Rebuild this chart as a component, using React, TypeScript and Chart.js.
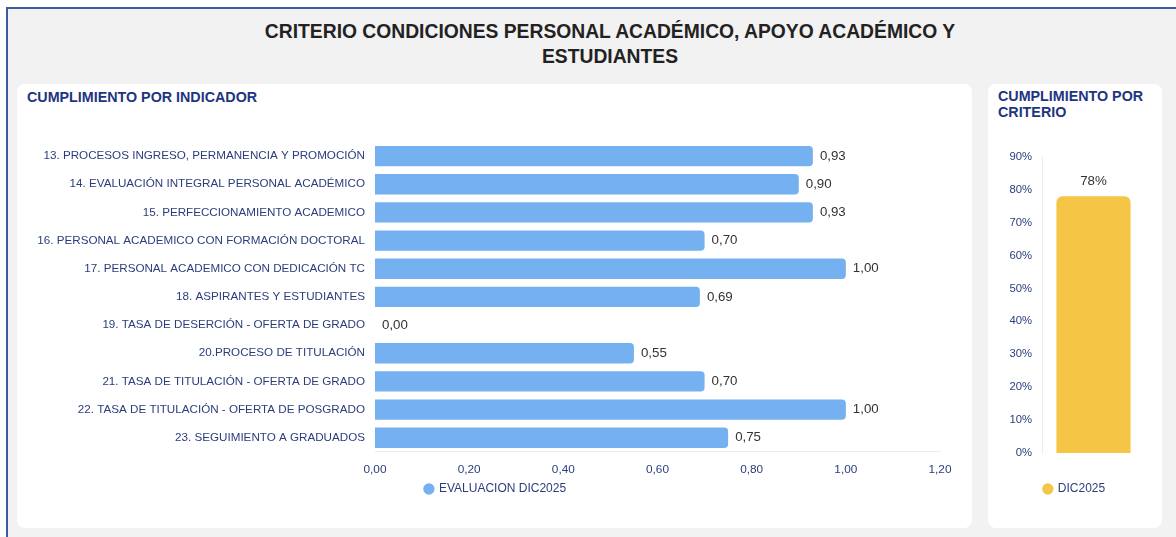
import React, { useEffect, useRef } from "react";
import { Chart, registerables } from "chart.js";

Chart.register(...registerables);

const indicatorLabels = [
  "13. PROCESOS INGRESO, PERMANENCIA Y PROMOCIÓN",
  "14. EVALUACIÓN INTEGRAL PERSONAL ACADÉMICO",
  "15. PERFECCIONAMIENTO ACADEMICO",
  "16. PERSONAL ACADEMICO CON FORMACIÓN DOCTORAL",
  "17. PERSONAL ACADEMICO CON DEDICACIÓN TC",
  "18. ASPIRANTES Y ESTUDIANTES",
  "19. TASA DE DESERCIÓN - OFERTA DE GRADO",
  "20.PROCESO DE TITULACIÓN",
  "21. TASA DE TITULACIÓN - OFERTA DE GRADO",
  "22. TASA DE TITULACIÓN - OFERTA DE POSGRADO",
  "23. SEGUIMIENTO A GRADUADOS",
];
const indicatorValues = [0.93, 0.9, 0.93, 0.7, 1.0, 0.69, 0.0, 0.55, 0.7, 1.0, 0.75];
const indicatorSeriesName = "EVALUACION DIC2025";

const criterioLabels = ["DIC2025"];
const criterioValues = [78];
const criterioSeriesName = "DIC2025";

const NAVY = "#2b3d7c";
const FONT = "'Liberation Sans', Arial, Helvetica, sans-serif";

const fmt = (v: number) => v.toFixed(2).replace(".", ",");

const valueLabelPlugin = {
  id: "valueLabels",
  afterDatasetsDraw(chart: any, _args: any, opts: any) {
    const ctx = chart.ctx;
    const meta = chart.getDatasetMeta(0);
    const data = chart.data.datasets[0].data as number[];
    ctx.save();
    ctx.fillStyle = "#333333";
    ctx.font = `13.3px ${FONT}`;
    meta.data.forEach((el: any, i: number) => {
      const v = data[i];
      if (opts.horizontal) {
        ctx.textAlign = "left";
        ctx.textBaseline = "middle";
        ctx.fillText(fmt(v), el.x + 7, el.y);
      } else {
        ctx.textAlign = "center";
        ctx.textBaseline = "bottom";
        ctx.fillText(Math.round(v) + "%", el.x, el.y - 8);
      }
    });
    ctx.restore();
  },
};

// shifts the legend box horizontally after layout
const legendShiftPlugin = {
  id: "legendShift",
  afterLayout(chart: any, _args: any, opts: any) {
    const lg = chart.legend;
    if (lg && opts && opts.dx) {
      lg.left += opts.dx;
      lg.right += opts.dx;
      if (lg.legendHitBoxes) lg.legendHitBoxes.forEach((b: any) => (b.left += opts.dx));
    }
  },
};

function IndicatorChart() {
  const ref = useRef<HTMLCanvasElement>(null);
  useEffect(() => {
    const chart = new Chart(ref.current!, {
      type: "bar",
      data: {
        labels: indicatorLabels,
        datasets: [
          {
            label: indicatorSeriesName,
            data: indicatorValues,
            backgroundColor: "#75b1f1",
            borderRadius: 4,
            borderSkipped: "start",
            barPercentage: 0.72,
            categoryPercentage: 1,
          },
        ],
      },
      options: {
        indexAxis: "y",
        animation: false,
        responsive: false,
        maintainAspectRatio: false,
        layout: { padding: { top: 11, right: 32, bottom: 4, left: 0 } },
        scales: {
          x: {
            min: 0,
            max: 1.2,
            grid: { display: false, drawTicks: false },
            border: { display: true, color: "#ececec" },
            ticks: {
              stepSize: 0.2,
              color: NAVY,
              padding: 11,
              font: { family: FONT, size: 11.8 },
              callback: (v: any) => fmt(Number(v)),
            },
            afterFit: (scale: any) => {
              scale.height = scale.height - 11;
            },
          },
          y: {
            grid: { display: false, drawTicks: false },
            border: { display: false },
            ticks: {
              color: NAVY,
              padding: 10,
              font: { family: FONT, size: 11.65 },
            },
            afterFit: (scale: any) => {
              scale.width = 358;
            },
          },
        },
        plugins: {
          legend: {
            position: "bottom",
            labels: {
              usePointStyle: true,
              pointStyle: "circle",
              boxWidth: 8,
              boxHeight: 8,
              color: NAVY,
              padding: 6,
              font: { family: FONT, size: 12 },
            },
          },
          tooltip: { enabled: false },
          valueLabels: { horizontal: true },
          legendShift: { dx: 17 },
        } as any,
      },
      plugins: [valueLabelPlugin, legendShiftPlugin],
    });
    return () => chart.destroy();
  }, []);
  return (
    <canvas
      ref={ref}
      width={955}
      height={384}
      style={{ position: "absolute", left: 0, top: 41, width: 955, height: 384 }}
    />
  );
}

function CriterioChart() {
  const ref = useRef<HTMLCanvasElement>(null);
  useEffect(() => {
    const chart = new Chart(ref.current!, {
      type: "bar",
      data: {
        labels: criterioLabels,
        datasets: [
          {
            label: criterioSeriesName,
            data: criterioValues,
            backgroundColor: "#f5c646",
            borderRadius: 6,
            borderSkipped: "start",
            barPercentage: 0.72,
            categoryPercentage: 1,
          },
        ],
      },
      options: {
        animation: false,
        responsive: false,
        maintainAspectRatio: false,
        layout: { padding: { top: 8, right: 17, bottom: 4, left: 16 } },
        scales: {
          x: {
            grid: { display: false, drawTicks: false },
            border: { display: false },
            ticks: { display: false },
            afterFit: (scale: any) => {
              scale.height = 24;
            },
          },
          y: {
            min: 0,
            max: 90,
            grid: { display: false, drawTicks: false },
            border: { display: true, color: "#ececec" },
            ticks: {
              stepSize: 10,
              color: NAVY,
              padding: 10,
              font: { family: FONT, size: 11.3 },
              callback: (v: any) => v + "%",
            },
            afterFit: (scale: any) => {
              scale.width = 38;
            },
          },
        },
        plugins: {
          legend: {
            position: "bottom",
            labels: {
              usePointStyle: true,
              pointStyle: "circle",
              boxWidth: 8,
              boxHeight: 8,
              color: NAVY,
              padding: 6,
              font: { family: FONT, size: 12 },
            },
          },
          tooltip: { enabled: false },
          valueLabels: { horizontal: false },
        } as any,
      },
      plugins: [valueLabelPlugin],
    });
    return () => chart.destroy();
  }, []);
  return (
    <canvas
      ref={ref}
      width={174}
      height={369}
      style={{ position: "absolute", left: 0, top: 56, width: 174, height: 369 }}
    />
  );
}

export default function App() {
  useEffect(() => {
    document.body.style.margin = "0";
  }, []);
  const cardTitle: React.CSSProperties = {
    position: "absolute",
    fontFamily: FONT,
    fontWeight: 700,
    fontSize: 14.3,
    color: "#1d3580",
    lineHeight: "16px",
    margin: 0,
    whiteSpace: "nowrap",
  };
  return (
    <div style={{ position: "relative", width: 1176, height: 537, overflow: "hidden", background: "#ffffff" }}>
      <div
        style={{
          position: "absolute",
          left: 6,
          top: 7,
          width: 1200,
          height: 560,
          background: "#f2f2f2",
          borderLeft: "2px solid #3b5ca3",
          borderTop: "2px solid #3b5ca3",
        }}
      />
      <div
        style={{
          position: "absolute",
          left: 210,
          top: 19,
          width: 800,
          textAlign: "center",
          fontFamily: FONT,
          fontWeight: 700,
          fontSize: 19.3,
          lineHeight: "25px",
          color: "#222222",
        }}
      >
        CRITERIO CONDICIONES PERSONAL ACADÉMICO, APOYO ACADÉMICO Y
        <br />
        ESTUDIANTES
      </div>
      <div
        style={{
          position: "absolute",
          left: 17,
          top: 84,
          width: 955,
          height: 444,
          background: "#ffffff",
          borderRadius: 8,
        }}
      >
        <div style={{ ...cardTitle, left: 10, top: 5 }}>CUMPLIMIENTO POR INDICADOR</div>
        <IndicatorChart />
      </div>
      <div
        style={{
          position: "absolute",
          left: 988,
          top: 84,
          width: 174,
          height: 444,
          background: "#ffffff",
          borderRadius: 8,
        }}
      >
        <div style={{ ...cardTitle, left: 10, top: 4 }}>
          CUMPLIMIENTO POR
          <br />
          CRITERIO
        </div>
        <CriterioChart />
      </div>
    </div>
  );
}
